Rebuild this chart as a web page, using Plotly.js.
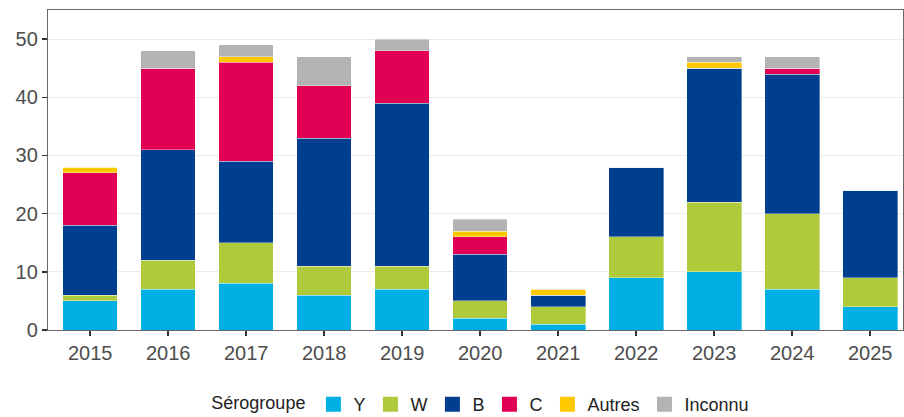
<!DOCTYPE html>
<html>
<head>
<meta charset="utf-8">
<script src="https://cdn.plot.ly/plotly-3.0.1.min.js"></script>
<style>html,body{margin:0;padding:0;background:#fff;}#chart{width:904px;height:417px;}</style>
</head>
<body>
<div id="chart"></div>
<script>
const years = ['2015','2016','2017','2018','2019','2020','2021','2022','2023','2024','2025'];
const serY       = [5, 7, 8, 6, 7, 2, 1, 9, 10, 7, 4];
const serW       = [1, 5, 7, 5, 4, 3, 3, 7, 12, 13, 5];
const serB       = [12, 19, 14, 22, 28, 8, 2, 12, 23, 24, 15];
const serC       = [9, 14, 17, 9, 9, 3, 0, 0, 0, 1, 0];
const serAutres  = [1, 0, 1, 0, 0, 1, 1, 0, 1, 0, 0];
const serInconnu = [0, 3, 2, 5, 2, 2, 0, 0, 1, 2, 0];
const names  = ['Y', 'W', 'B', 'C', 'Autres', 'Inconnu'];
const colors = ['#00B0E4', '#AFCA3B', '#003F8F', '#E20055', '#FFC800', '#B3B3B3'];
const series = [serY, serW, serB, serC, serAutres, serInconnu];

const traces = series.map((vals, i) => ({
  type: 'bar',
  x: years,
  y: vals,
  name: names[i],
  legendgroup: names[i],
  showlegend: false,
  marker: {color: colors[i], line: {color: 'rgba(255,255,255,0.6)', width: 0.6}},
  hoverinfo: 'x+y+name'
}));

// legend-only entries with larger square swatches
const legendTraces = names.map((n, i) => ({
  type: 'scatter',
  mode: 'markers',
  x: [null], y: [null],
  name: n,
  legendgroup: n,
  showlegend: true,
  marker: {symbol: 'square', size: 15, color: colors[i]},
  hoverinfo: 'skip'
}));

const layout = {
  width: 904, height: 417,
  margin: {l: 48, r: 1, t: 10, b: 87},
  barmode: 'stack',
  bargap: 0.3,
  paper_bgcolor: '#fff',
  plot_bgcolor: '#fff',
  font: {family: 'Liberation Sans, Arial, sans-serif', color: '#222'},
  xaxis: {
    type: 'category',
    range: [-0.54, 10.42],
    showgrid: false,
    showline: true, mirror: true, linecolor: '#666', linewidth: 1.2,
    ticks: 'outside', ticklen: 5, tickwidth: 1.5, tickcolor: '#333',
    tickfont: {size: 20, color: '#4d4d4d'},
    zeroline: false
  },
  yaxis: {
    range: [0, 55],
    dtick: 10,
    showgrid: true, gridcolor: '#ebebeb', gridwidth: 1,
    showline: true, mirror: true, linecolor: '#666', linewidth: 1.2,
    ticks: 'outside', ticklen: 5, tickwidth: 1.5, tickcolor: '#333',
    tickfont: {size: 20, color: '#4d4d4d'},
    zeroline: false
  },
  legend: {
    orientation: 'h',
    x: 0.533, xanchor: 'center', xref: 'container',
    y: 0.03, yanchor: 'middle', yref: 'container',
    title: {text: 'Sérogroupe', font: {size: 18, color: '#222'}},
    font: {size: 18, color: '#222'},
    traceorder: 'normal',
    itemwidth: 30
  },
  showlegend: true
};

Plotly.newPlot('chart', traces.concat(legendTraces), layout, {displayModeBar: false, staticPlot: true});
</script>
</body>
</html>
